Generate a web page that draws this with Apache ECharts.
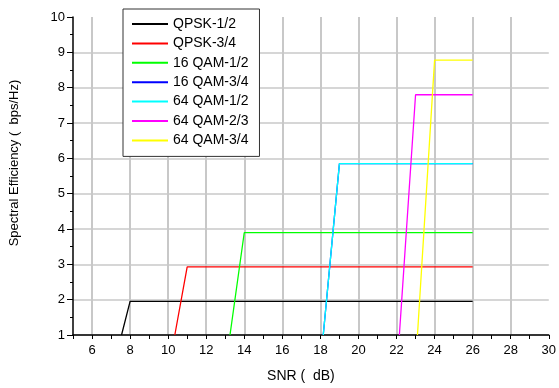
<!DOCTYPE html>
<html>
<head>
<meta charset="utf-8">
<script src="https://cdn.jsdelivr.net/npm/echarts@6/dist/echarts.min.js"></script>
<style>
  html, body { margin: 0; padding: 0; background: #fff; }
  #chart { width: 559px; height: 388px; }
</style>
</head>
<body>
<div id="chart"></div>
<script>
// modulation schemes
var names = ['QPSK-1/2', 'QPSK-3/4', '16 QAM-1/2', '16 QAM-3/4', '64 QAM-1/2', '64 QAM-2/3', '64 QAM-3/4'];
var colors = ['#000000', '#ff0000', '#00ff00', '#0000ff', '#00ffff', '#ff00ff', '#ffff00'];
// SNR where each curve leaves the floor, where it reaches its level, and the level
var riseStart = [7.55, 10.35, 13.25, 18.15, 18.15, 22.15, 23.1];
var riseEnd = [8.0, 11.0, 14.0, 19.0, 19.0, 23.0, 24.0];
var level = [1.95, 2.93, 3.9, 5.85, 5.85, 7.8, 8.78];
var floorValue = 1;
var snrEnd = 26;

var chart = echarts.init(document.getElementById('chart'));

var series = names.map(function (n, i) {
  return {
    name: n,
    type: 'line',
    symbol: 'none',
    data: [
      [riseStart[i], floorValue],
      [riseEnd[i], level[i]],
      [snrEnd, level[i]]
    ],
    lineStyle: { color: colors[i], width: 1.3 },
    itemStyle: { color: colors[i] }
  };
});

var txt = { color: '#000', fontFamily: 'Liberation Sans, Arial, sans-serif', fontSize: 13 };

chart.setOption({
  animation: false,
  grid: { left: 73, top: 17, right: 5, bottom: 49 },
  legend: {
    orient: 'vertical',
    left: 123,
    top: 9,
    padding: [8, 11, 9, 8],
    itemWidth: 36,
    itemHeight: 14,
    itemGap: 5.4,
    backgroundColor: '#fff',
    borderColor: '#333',
    borderWidth: 1,
    itemStyle: { opacity: 0 },
    textStyle: { color: '#000', fontFamily: 'Liberation Sans, Arial, sans-serif', fontSize: 14 },
    data: names
  },
  xAxis: {
    type: 'value',
    min: 5,
    max: 30,
    interval: 1,
    name: 'SNR (  dB)',
    nameLocation: 'middle',
    nameGap: 34,
    nameTextStyle: { color: '#000', fontFamily: 'Liberation Sans, Arial, sans-serif', fontSize: 14, padding: [0, 20, 0, 0] },
    axisLine: { lineStyle: { color: '#000', width: 1.5 } },
    axisTick: { length: 4, lineStyle: { color: '#000' } },
    axisLabel: Object.assign({
      margin: 9,
      formatter: function (v) { return v % 2 === 0 ? String(v) : ''; }
    }, txt),
    splitLine: {
      show: true,
      showMaxLine: false,
      lineStyle: { color: ['rgba(0,0,0,0)', '#c8c8c8'], width: 2 }
    }
  },
  yAxis: {
    type: 'value',
    min: 1,
    max: 10,
    interval: 1,
    name: 'Spectral Efficiency (  bps/Hz)',
    nameLocation: 'middle',
    nameGap: 52,
    nameTextStyle: { color: '#000', fontFamily: 'Liberation Sans, Arial, sans-serif', fontSize: 13, padding: [0, 0, 0, 26] },
    axisLine: { show: true, lineStyle: { color: '#000', width: 1.5 } },
    axisTick: { show: true, length: 6, lineStyle: { color: '#000' } },
    minorTick: { show: true, splitNumber: 2, length: 3, lineStyle: { color: '#000' } },
    axisLabel: Object.assign({ margin: 8 }, txt),
    splitLine: {
      show: true,
      showMaxLine: false,
      lineStyle: { color: '#c8c8c8', width: 1.5 }
    }
  },
  series: series
});
</script>
</body>
</html>
